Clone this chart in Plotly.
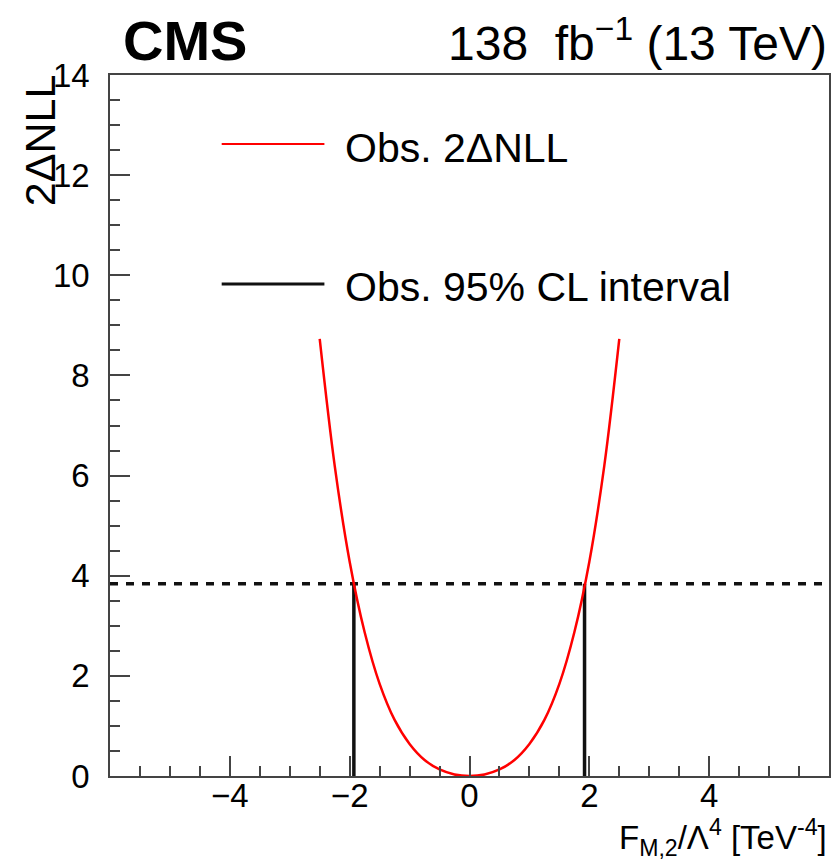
import plotly.graph_objects as go

# Observed 2*DeltaNLL scan versus the F_M,2/Lambda^4 coupling
f_m2 = [-2.5, -2.25, -2.0, -1.75, -1.5, -1.25, -1.0, -0.75, -0.5, -0.25, 0.0,
        0.25, 0.5, 0.75, 1.0, 1.25, 1.5, 1.75, 2.0, 2.25, 2.5]
nll2 = [8.73, 6.20, 4.28, 2.87, 1.84, 1.12, 0.64, 0.32, 0.13, 0.03, 0.0,
        0.03, 0.13, 0.32, 0.64, 1.12, 1.84, 2.87, 4.28, 6.20, 8.73]

# 95% CL threshold and observed interval edges
cl_threshold = 3.84
cl_low = -1.93
cl_high = 1.92

x_range = [-6, 6]
y_range = [0, 14]
x_ticks = [-4, -2, 0, 2, 4]
y_ticks = [0, 2, 4, 6, 8, 10, 12, 14]

FONT = "Liberation Sans, Arial, Helvetica, sans-serif"
AXIS_COL = "#444444"

fig = go.Figure()

# interval edges
for xv in (cl_low, cl_high):
    fig.add_trace(go.Scatter(
        x=[xv, xv], y=[0, cl_threshold], mode="lines",
        line=dict(color="#111111", width=3.5), showlegend=False, hoverinfo="skip"))

# threshold line
fig.add_trace(go.Scatter(
    x=x_range, y=[cl_threshold, cl_threshold], mode="lines",
    line=dict(color="#111111", width=3.5, dash="8px,8px"),
    showlegend=False, hoverinfo="skip"))

# likelihood scan
fig.add_trace(go.Scatter(
    x=f_m2, y=nll2, mode="lines", line=dict(color="#ff0000", width=2.5, shape="spline"),
    showlegend=False))

axis_common = dict(
    showline=True, mirror=True, linecolor=AXIS_COL, linewidth=1.5,
    showgrid=False, zeroline=False,
    ticks="inside", ticklen=20, tickwidth=1.5, tickcolor=AXIS_COL,
    tickfont=dict(family=FONT, size=33, color="#000000"),
)

fig.update_xaxes(range=x_range, tickmode="array", tickvals=x_ticks,
                 minor=dict(ticks="inside", ticklen=10, tickwidth=1.5, tickcolor=AXIS_COL, dtick=0.5),
                 ticklabelstandoff=-10, **axis_common)
fig.update_yaxes(range=y_range, tickmode="array", tickvals=y_ticks,
                 minor=dict(ticks="inside", ticklen=10, tickwidth=1.5, tickcolor=AXIS_COL, dtick=0.5),
                 ticklabelstandoff=12, **axis_common)

W, H = 835, 862
ml, mr, mt, mb = 110, 4, 75, 86
pw, ph = W - ml - mr, H - mt - mb


def px_x(p):
    return (p - ml) / pw


def px_y(p):
    return (H - mb - p) / ph


annotations = [
    dict(text="<b>CMS</b>", x=px_x(121), y=px_y(40), xanchor="left", yanchor="middle",
         font=dict(family=FONT, size=56, color="#000000")),
    dict(text="138\u00a0 fb<sup>\u22121</sup> (13 TeV)", x=1.0, y=px_y(40), xanchor="right",
         yanchor="middle", font=dict(family=FONT, size=48, color="#000000")),
    dict(text="F<sub>M,2</sub>/\u039b<sup>4</sup> [TeV<sup>-4</sup>]", x=1.0, y=px_y(837),
         xanchor="right", yanchor="middle", font=dict(family=FONT, size=33, color="#000000")),
    dict(text="2\u0394NLL", textangle=-90, x=px_x(40), y=px_y(72), xanchor="center",
         yanchor="top", font=dict(family=FONT, size=43, color="#000000")),
    dict(text="Obs. 2\u0394NLL", x=px_x(344), y=px_y(148), xanchor="left", yanchor="middle",
         font=dict(family=FONT, size=41, color="#000000")),
    dict(text="Obs. 95% CL interval", x=px_x(344), y=px_y(287), xanchor="left",
         yanchor="middle", font=dict(family=FONT, size=41, color="#000000")),
]
for a in annotations:
    a.update(xref="paper", yref="paper", showarrow=False)

shapes = [
    dict(type="line", xref="paper", yref="paper", x0=px_x(222), x1=px_x(325),
         y0=px_y(144), y1=px_y(144), line=dict(color="#ff0000", width=2)),
    dict(type="line", xref="paper", yref="paper", x0=px_x(222), x1=px_x(325),
         y0=px_y(284), y1=px_y(284), line=dict(color="#111111", width=3)),
]

fig.update_layout(
    width=W, height=H,
    margin=dict(l=ml, r=mr, t=mt, b=mb),
    paper_bgcolor="white", plot_bgcolor="white",
    annotations=annotations, shapes=shapes,
    showlegend=False,
)

fig.write_html("out.html")
